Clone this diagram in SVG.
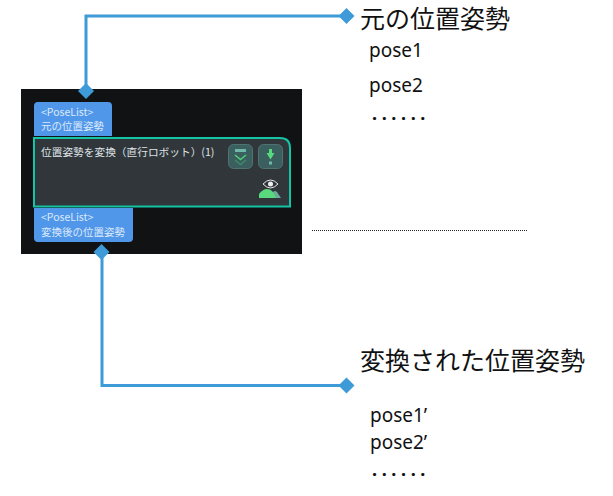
<svg xmlns="http://www.w3.org/2000/svg" width="613" height="496" viewBox="0 0 613 496">
<style>
.big{font:25px "Noto Sans CJK JP","Noto Sans",sans-serif;fill:#111}
.mid{font:19px "Noto Sans","Noto Sans CJK JP",sans-serif;fill:#111}
.dots{font:700 18px "Noto Sans",sans-serif;fill:#111;letter-spacing:4.6px}
.port{font:10.500px "Noto Sans CJK JP","Noto Sans",sans-serif;fill:#dbe8fb}
.title{font:10.700px "Noto Sans CJK JP","Noto Sans",sans-serif;fill:#dfe3e6}
.conn{fill:none;stroke:#3f9bd8;stroke-width:3}
.dia{fill:#3f9bd8}
.btn{fill:#3a5f5e;stroke:#4e7372;stroke-width:1}
</style>
<g id="canvas"><rect x="21" y="89" width="281" height="165" fill="#111213"/></g>
<g id="connectors">
<path class="conn" d="M86 91V16H346"/>
<path class="conn" d="M102 252V385.500H346"/>
<path d="M312 230.500H527" fill="none" stroke="#222" stroke-width="1" stroke-dasharray="1 1"/>
<path class="dia" d="M86 83l8 8l-8 8l-8-8zM346.500 8l8 8l-8 8l-8-8zM101.500 244l8 8l-8 8l-8-8zM346.500 377.500l8 8l-8 8l-8-8z"/>
</g>
<g id="port-in">
<path d="M34 136V106q0-4 4-4H108q4 0 4 4V136z" fill="#5197e9"/>
<text class="port" x="41" y="115.500">&lt;PoseList&gt;</text>
<text class="port" x="41" y="130">元の位置姿勢</text>
</g>
<g id="port-out">
<path d="M34 208H133V238q0 4-4 4H38q-4 0-4-4z" fill="#5197e9"/>
<text class="port" x="41" y="221">&lt;PoseList&gt;</text>
<text class="port" x="41" y="235.500">変換後の位置姿勢</text>
</g>
<g id="step">
<path d="M34 206.500V138H280q10 0 10 10V206.500z" fill="#31363b" stroke="#14c4a6" stroke-width="2"/>
<text class="title" x="41" y="156">位置姿勢を変換（直行ロボット）(1)</text>
<rect class="btn" x="228.500" y="144.500" width="24" height="24" rx="5"/>
<rect x="235" y="149" width="11" height="3" fill="#6fb7a8"/>
<path d="M235 155l5.500 4.500l5.500-4.500" fill="none" stroke="#4fd07a" stroke-width="1.500"/>
<path d="M235 160l5.500 4.500l5.500-4.500" fill="none" stroke="#3b8a68" stroke-width="1.500"/>
<rect class="btn" x="258.500" y="144.500" width="24" height="24" rx="5"/>
<path d="M269 149h3v4h2.500l-4 6.500l-4-6.500h2.500z" fill="#58d97e"/>
<rect x="269" y="161.500" width="3" height="3" fill="#6fb7a8"/>
<path d="M263 184q7.500-8 15 0q-7.500 8-15 0z" fill="none" stroke="#e6e6e6" stroke-width="1"/>
<circle cx="270.500" cy="184" r="2.500" fill="#eee"/>
<path d="M270 198l3-6q2-2 4 0l4 6z" fill="#6aa99c"/>
<path d="M259 198v-4q4-5 8-5q6 0 9 9z" fill="#58d97e"/>
</g>
<g id="label-source">
<text class="big" x="360" y="28">元の位置姿勢</text>
<text class="mid" x="369" y="57">pose1</text>
<text class="mid" x="369" y="92">pose2</text>
<text class="dots" x="372" y="120">......</text>
</g>
<g id="label-result">
<text class="big" x="360" y="370">変換された位置姿勢</text>
<text class="mid" x="370" y="422">pose1’</text>
<text class="mid" x="370" y="449">pose2’</text>
<text class="dots" x="372" y="476">......</text>
</g>
</svg>
